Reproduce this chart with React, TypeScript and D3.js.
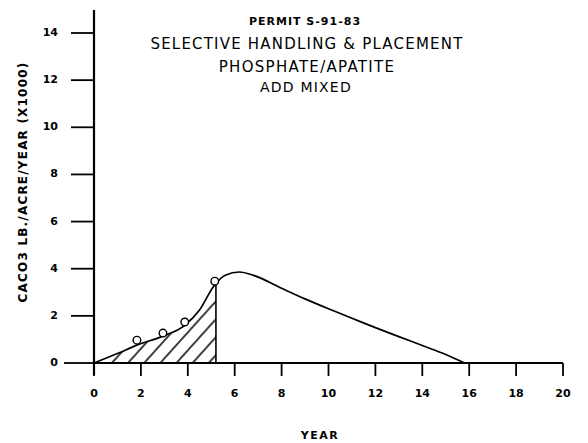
import React from "react";
import * as d3 from "d3";

const titleLines = ["PERMIT S-91-83", "SELECTIVE HANDLING & PLACEMENT", "PHOSPHATE/APATITE", "ADD MIXED"];
const xTicks = [0, 2, 4, 6, 8, 10, 12, 14, 16, 18, 20];
const yTicks = [0, 2, 4, 6, 8, 10, 12, 14];
const curveX = [0, 1, 1.83, 2.94, 3.87, 4.5, 5.15, 5.6, 6.2, 6.8, 8, 9, 10, 11, 12, 13, 14, 15, 15.8];
const curveY = [0, 0.4, 0.76, 1.14, 1.6, 2.25, 3.32, 3.72, 3.86, 3.72, 3.17, 2.72, 2.3, 1.9, 1.5, 1.12, 0.74, 0.36, 0];
const obsX = [1.83, 2.94, 3.87, 5.15];
const obsY = [0.97, 1.27, 1.74, 3.47];
const shadeEnd = 5.2;

const W = 588, H = 443;
const x = d3.scaleLinear().domain([0, 20]).range([94, 563]);
const y = d3.scaleLinear().domain([0, 14]).range([363, 33]);

export default function App() {
  const pts: [number, number][] = curveX.map((v, i) => [v, curveY[i]]);
  const line = d3.line<[number, number]>().x(d => x(d[0])).y(d => y(d[1])).curve(d3.curveMonotoneX);
  const curvePath = line(pts) || "";
  const shadePts = pts.filter(p => p[0] <= shadeEnd);
  const i = curveX.findIndex(v => v > shadeEnd);
  const t = (shadeEnd - curveX[i - 1]) / (curveX[i] - curveX[i - 1]);
  const yEnd = curveY[i - 1] + t * (curveY[i] - curveY[i - 1]);
  shadePts.push([shadeEnd, yEnd]);
  const area = d3.area<[number, number]>().x(d => x(d[0])).y0(y(0)).y1(d => y(d[1])).curve(d3.curveMonotoneX);
  const areaPath = area(shadePts) || "";
  const font = "'DejaVu Sans', sans-serif";
  return (
    <svg width={W} height={H} style={{ position: "absolute", left: 0, top: 0, background: "#fff" }} fontFamily={font}>
      <defs>
        <pattern id="hatch" patternUnits="userSpaceOnUse" width={12} height={12} patternTransform="rotate(42)">
          <line x1={2} y1={0} x2={2} y2={12} stroke="#000" strokeWidth={1.5} />
        </pattern>
      </defs>
      <rect width={W} height={H} fill="#fff" />
      {/* titles */}
      <text x={305} y={22} textAnchor="middle" dominantBaseline="middle" fontSize={11} fontWeight="bold" letterSpacing={1}>{titleLines[0]}</text>
      <text x={307} y={44} textAnchor="middle" dominantBaseline="middle" fontSize={15} letterSpacing={1.2}>{titleLines[1]}</text>
      <text x={307} y={67} textAnchor="middle" dominantBaseline="middle" fontSize={15} letterSpacing={1.3}>{titleLines[2]}</text>
      <text x={306} y={88} textAnchor="middle" dominantBaseline="middle" fontSize={14} letterSpacing={1.2}>{titleLines[3]}</text>
      {/* hatch area */}
      <path d={areaPath} fill="url(#hatch)" stroke="none" />
      <line x1={x(shadeEnd)} x2={x(shadeEnd)} y1={y(0)} y2={y(yEnd)} stroke="#000" strokeWidth={1.6} />
      {/* axes */}
      <line x1={x(0)} x2={x(0)} y1={10} y2={375} stroke="#000" strokeWidth={2.2} />
      <line x1={x(0)} x2={x(20)} y1={y(0)} y2={y(0)} stroke="#000" strokeWidth={2.2} />
      {yTicks.map(v => (
        <g key={"y" + v}>
          <line x1={v === 0 ? 64 : 71} x2={x(0)} y1={y(v)} y2={y(v)} stroke="#000" strokeWidth={1.8} />
          <text x={58} y={y(v)} textAnchor="end" dominantBaseline="middle" fontSize={11} fontWeight="bold">{v}</text>
        </g>
      ))}
      {xTicks.map(v => (
        <g key={"x" + v}>
          <line x1={x(v)} x2={x(v)} y1={y(0)} y2={376} stroke="#000" strokeWidth={1.8} />
          <text x={x(v)} y={394} textAnchor="middle" dominantBaseline="middle" fontSize={11} fontWeight="bold">{v}</text>
        </g>
      ))}
      <text x={320} y={436} textAnchor="middle" dominantBaseline="middle" fontSize={11} fontWeight="bold" letterSpacing={1.5}>YEAR</text>
      <text transform={`translate(23,182) rotate(-90)`} textAnchor="middle" dominantBaseline="middle" fontSize={12} fontWeight="bold" letterSpacing={1.2}>CACO3 LB./ACRE/YEAR (X1000)</text>
      {/* curve */}
      <path d={curvePath} fill="none" stroke="#000" strokeWidth={1.7} />
      {obsX.map((v, k) => (
        <circle key={"c" + k} cx={x(v)} cy={y(obsY[k])} r={3.8} fill="#fff" stroke="#000" strokeWidth={1.4} />
      ))}
    </svg>
  );
}
